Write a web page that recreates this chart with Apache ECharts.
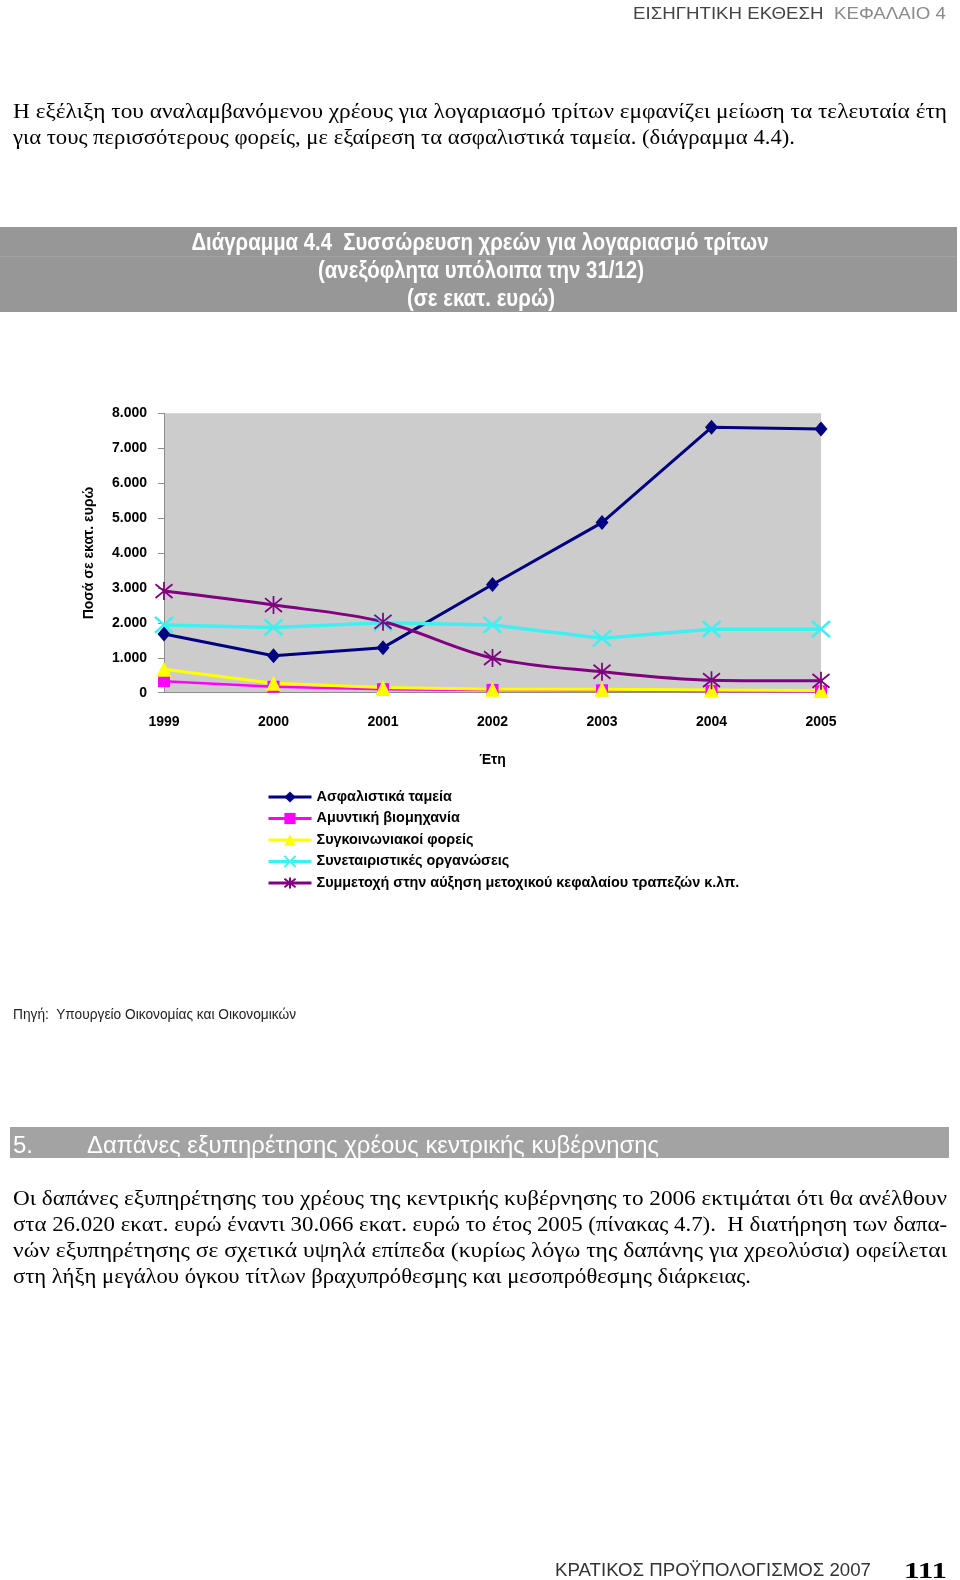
<!DOCTYPE html>
<html>
<head>
<meta charset="utf-8">
<script src="https://cdn.jsdelivr.net/npm/echarts@6/dist/echarts.min.js"></script>
<style>
  html, body { margin:0; padding:0; background:#fff; }
  body { width:960px; height:1580px; position:relative; overflow:hidden; }
  #chart { position:absolute; left:0; top:0; width:960px; height:1580px; }
  .t { position:absolute; z-index:2; white-space:nowrap; line-height:normal; }
  .serif { font-family:"Liberation Serif","Times New Roman",serif; font-size:22px; color:#000; }
  .sans { font-family:"Liberation Sans",Arial,sans-serif; }
  .fit { display:inline-block; transform-origin:0 50%; }
</style>
</head>
<body>
<div id="chart"></div>

<div class="t sans fit" data-w="313" data-x="633" data-y="13.9" data-fs="17" style="font-size:17px;"><span style="color:#444">ΕΙΣΗΓΗΤΙΚΗ ΕΚΘΕΣΗ</span>&nbsp;&nbsp;<span style="color:#8a8a8a">ΚΕΦΑΛΑΙΟ 4</span></div>

<div class="t serif fit" data-w="934" data-x="13" data-y="112" data-fs="22">Η εξέλιξη του αναλαμβανόμενου χρέους για λογαριασμό τρίτων εμφανίζει μείωση τα τελευταία έτη</div>
<div class="t serif fit" data-w="782" data-x="13" data-y="138" data-fs="22">για τους περισσότερους φορείς, με εξαίρεση τα ασφαλιστικά ταμεία. (διάγραμμα 4.4).</div>

<div class="t sans fit" data-w="283" data-x="13" data-y="1014" data-fs="14" style="font-size:14px;color:#222">Πηγή:&nbsp; Υπουργείο Οικονομίας και Οικονομικών</div>

<div style="position:absolute;left:10px;top:1127px;width:939px;height:31px;background:#a3a3a3;z-index:1"></div>
<div class="t sans" data-x="13" data-y="1144" data-fs="24" style="font-size:24px;color:#fff">5.</div>
<div class="t sans fit" data-w="572" data-x="87" data-y="1144" data-fs="24" style="font-size:24px;color:#fff">Δαπάνες εξυπηρέτησης χρέους κεντρικής κυβέρνησης</div>

<div class="t serif fit" data-w="934" data-x="13" data-y="1199" data-fs="22">Οι δαπάνες εξυπηρέτησης του χρέους της κεντρικής κυβέρνησης το 2006 εκτιμάται ότι θα ανέλθουν</div>
<div class="t serif fit" data-w="934" data-x="13" data-y="1225" data-fs="22">στα 26.020 εκατ. ευρώ έναντι 30.066 εκατ. ευρώ το έτος 2005 (πίνακας 4.7).&nbsp; Η διατήρηση των δαπα-</div>
<div class="t serif fit" data-w="934" data-x="13" data-y="1251" data-fs="22">νών εξυπηρέτησης σε σχετικά υψηλά επίπεδα (κυρίως λόγω της δαπάνης για χρεολύσια) οφείλεται</div>
<div class="t serif fit" data-w="738" data-x="13" data-y="1277" data-fs="22">στη λήξη μεγάλου όγκου τίτλων βραχυπρόθεσμης και μεσοπρόθεσμης διάρκειας.</div>

<div class="t sans fit" data-w="316" data-x="555" data-y="1570" data-fs="18" style="font-size:18px;color:#333">ΚΡΑΤΙΚΟΣ ΠΡΟΫΠΟΛΟΓΙΣΜΟΣ 2007</div>
<div class="t fit" data-w="43" data-x="904" data-y="1570" data-fs="24" style="font-family:'Liberation Serif',serif;font-weight:bold;font-size:24px;color:#000">111</div>

<script>
// ---------------- data ----------------
const years = ['1999', '2000', '2001', '2002', '2003', '2004', '2005'];
const asfalistikaTameia = [1680, 1060, 1290, 3100, 4870, 7600, 7550];
const amyntikiViomichania = [330, 170, 100, 80, 70, 50, 40];
const sygkoinoniakoiForeis = [670, 270, 150, 100, 100, 80, 60];
const synetairistikesOrganoseis = [1940, 1870, 2000, 1940, 1560, 1820, 1820];
const symmetochiTrapezon = [2910, 2510, 2030, 990, 600, 360, 340];
const yTickLabels = ['0', '1.000', '2.000', '3.000', '4.000', '5.000', '6.000', '7.000', '8.000'];
const seriesNames = [
  'Ασφαλιστικά ταμεία',
  'Αμυντική βιομηχανία',
  'Συγκοινωνιακοί φορείς',
  'Συνεταιριστικές οργανώσεις',
  'Συμμετοχή στην αύξηση μετοχικού κεφαλαίου τραπεζών κ.λπ.'
];
const titleLines = [
  'Διάγραμμα 4.4  Συσσώρευση χρεών για λογαριασμό τρίτων',
  '(ανεξόφλητα υπόλοιπα την 31/12)',
  '(σε εκατ. ευρώ)'
];

// ---------------- HTML text placement ----------------
document.querySelectorAll('.t').forEach(el => {
  const fs = +el.dataset.fs;
  const isSerif = el.classList.contains('serif');
  const off = isSerif ? 0.64 * fs : 0.56 * fs;
  el.style.left = el.dataset.x + 'px';
  el.style.top = (+el.dataset.y - off) + 'px';
  if (el.dataset.w) {
    const nat = el.getBoundingClientRect().width;
    el.style.transform = 'scaleX(' + (+el.dataset.w / nat) + ')';
  }
});

// ---------------- chart ----------------
const chart = echarts.init(document.getElementById('chart'), null, { renderer: 'canvas' });
const FONT = '"Liberation Sans", Arial, sans-serif';

const mctx = document.createElement('canvas').getContext('2d');
function scaleFor(text, font, target) {
  mctx.font = font;
  return target / mctx.measureText(text).width;
}
const titleFont = 'bold 23px "Liberation Sans"';
const titleSpec = [
  { x: 191.5, w: 577, y: 243.5 },
  { x: 318, w: 326, y: 271.5 },
  { x: 407, w: 148, y: 299.5 }
];
const titleGraphics = titleLines.map((txt, i) => ({
  type: 'text',
  x: titleSpec[i].x,
  y: titleSpec[i].y,
  scaleX: scaleFor(txt, titleFont, titleSpec[i].w),
  style: {
    text: txt,
    fill: '#ffffff',
    font: titleFont,
    textAlign: 'left',
    textVerticalAlign: 'middle'
  },
  z: 10
}));

const xPath = 'path://M0,0L10,10M10,0L0,10';
const starPath = 'path://M0,0L10,10M10,0L0,10M5,-1.5L5,11.5';

function lineSeries(name, data, color, symbol, size, lineWidth, extra) {
  return Object.assign({
    type: 'line',
    name: name,
    data: data,
    symbol: symbol,
    symbolSize: size,
    showSymbol: true,
    lineStyle: { color: color, width: lineWidth },
    itemStyle: { color: color, borderColor: color, borderWidth: 0 },
    emphasis: { disabled: true },
    animation: false
  }, extra || {});
}

const option = {
  animation: false,
  backgroundColor: 'transparent',
  graphic: [
    { type: 'rect', shape: { x: 0, y: 227, width: 957, height: 85 }, style: { fill: '#979797' }, z: 5 },
    { type: 'rect', shape: { x: 0, y: 256, width: 957, height: 1 }, style: { fill: '#a2a2a2' }, z: 6 }
  ].concat(titleGraphics),
  grid: {
    left: 164, top: 413.3, width: 657, height: 279.4,
    show: true, backgroundColor: '#cccccc', borderWidth: 0
  },
  legend: {
    orient: 'vertical',
    left: 262, top: 785,
    itemWidth: 43, itemHeight: 14, itemGap: 7.5,
    lineStyle: { width: 3 },
    textStyle: { fontFamily: FONT, fontWeight: 'bold', fontSize: 14.4, lineHeight: 14, color: '#000' },
    data: seriesNames,
    selectedMode: false
  },
  xAxis: {
    type: 'category',
    data: years,
    boundaryGap: false,
    name: 'Έτη',
    nameLocation: 'middle',
    nameGap: 60,
    nameTextStyle: { fontFamily: FONT, fontWeight: 'bold', fontSize: 14, color: '#000', verticalAlign: 'top' },
    axisLine: { show: true, lineStyle: { color: '#8c8c8c', width: 1 } },
    axisTick: { show: false },
    axisLabel: { fontFamily: FONT, fontWeight: 'bold', fontSize: 14, color: '#000', margin: 22 },
    splitLine: { show: false }
  },
  yAxis: {
    type: 'value',
    min: 0, max: 8000, interval: 1000,
    name: 'Ποσά σε εκατ. ευρώ',
    nameLocation: 'middle',
    nameGap: 68,
    nameRotate: 90,
    nameTextStyle: { fontFamily: FONT, fontWeight: 'bold', fontSize: 14, color: '#000' },
    axisLine: { show: true, lineStyle: { color: '#8c8c8c', width: 1 } },
    axisTick: { show: true, inside: false, length: 6, lineStyle: { color: '#8c8c8c' } },
    axisLabel: {
      fontFamily: FONT, fontWeight: 'bold', fontSize: 14, color: '#000', margin: 17,
      formatter: v => yTickLabels[Math.round(v / 1000)]
    },
    splitLine: { show: false }
  },
  series: [
    lineSeries(seriesNames[0], asfalistikaTameia, '#000080', 'diamond', [13, 15], 3),
    lineSeries(seriesNames[1], amyntikiViomichania, '#ff00ff', 'rect', 12, 2.5),
    lineSeries(seriesNames[2], sygkoinoniakoiForeis, '#ffff00', 'triangle', 15, 3),
    lineSeries(seriesNames[3], synetairistikesOrganoseis, '#3ff0f0', xPath, [18, 16], 3.5,
      { itemStyle: { color: 'rgba(0,0,0,0)', borderColor: '#3ff0f0', borderWidth: 2.5 } }),
    lineSeries(seriesNames[4], symmetochiTrapezon, '#800080', starPath, [17, 18], 3,
      { smooth: 0.35, itemStyle: { color: 'rgba(0,0,0,0)', borderColor: '#800080', borderWidth: 1.8 } })
  ]
};
chart.setOption(option);
</script>
</body>
</html>
